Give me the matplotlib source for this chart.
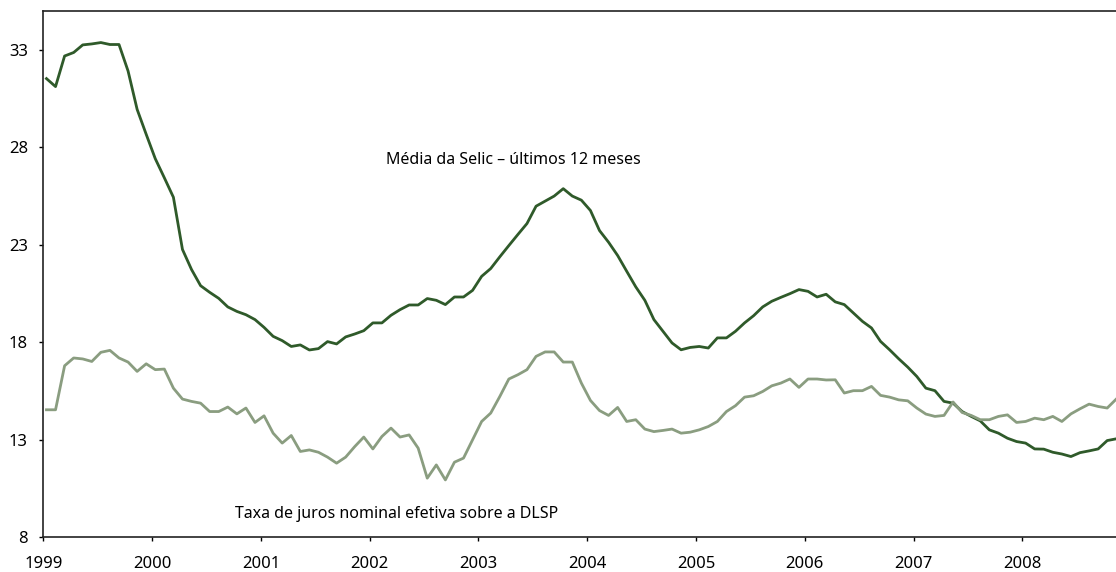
import numpy as np
import matplotlib
matplotlib.use("Agg")
from matplotlib import pyplot as plt

# monthly values, Jan 1999 onwards
selic_12m = [31.53, 31.12, 32.69, 32.87, 33.26, 33.31, 33.38, 33.28, 33.28, 31.92,
             29.95, 28.67, 27.42, 26.44, 25.44, 22.76, 21.73, 20.90, 20.56, 20.25,
             19.81, 19.58, 19.41, 19.16, 18.76, 18.30, 18.08, 17.78, 17.86, 17.60,
             17.67, 18.03, 17.91, 18.27, 18.42, 18.59, 18.99, 18.99, 19.38, 19.67,
             19.91, 19.91, 20.24, 20.15, 19.93, 20.32, 20.32, 20.66, 21.38, 21.78,
             22.38, 22.96, 23.53, 24.09, 24.98, 25.24, 25.50, 25.88, 25.50, 25.29,
             24.76, 23.73, 23.13, 22.45, 21.64, 20.84, 20.15, 19.16, 18.56, 17.96,
             17.61, 17.73, 17.78, 17.70, 18.22, 18.22, 18.56, 18.99, 19.36, 19.81,
             20.10, 20.30, 20.49, 20.70, 20.61, 20.32, 20.46, 20.07, 19.93, 19.50,
             19.07, 18.73, 18.04, 17.61, 17.15, 16.72, 16.24, 15.64, 15.51, 14.96,
             14.87, 14.44, 14.19, 13.96, 13.50, 13.33, 13.07, 12.90, 12.82, 12.52,
             12.51, 12.35, 12.26, 12.13, 12.33, 12.42, 12.52, 12.95, 13.04]

dlsp = [14.53, 14.53, 16.79, 17.19, 17.14, 17.01, 17.48, 17.58, 17.19, 16.98,
        16.50, 16.89, 16.59, 16.62, 15.64, 15.08, 14.96, 14.87, 14.44, 14.44,
        14.67, 14.32, 14.62, 13.88, 14.22, 13.33, 12.82, 13.21, 12.39, 12.47,
        12.35, 12.10, 11.79, 12.10, 12.64, 13.13, 12.52, 13.16, 13.59, 13.13,
        13.24, 12.56, 11.02, 11.70, 10.93, 11.84, 12.05, 12.99, 13.93, 14.36,
        15.21, 16.11, 16.33, 16.59, 17.27, 17.50, 17.50, 16.98, 16.98, 15.90,
        15.01, 14.49, 14.24, 14.65, 13.93, 14.02, 13.54, 13.41, 13.47, 13.54,
        13.33, 13.38, 13.50, 13.67, 13.93, 14.44, 14.74, 15.18, 15.25, 15.47,
        15.76, 15.90, 16.11, 15.68, 16.11, 16.11, 16.06, 16.07, 15.39, 15.51,
        15.51, 15.73, 15.27, 15.18, 15.04, 14.99, 14.62, 14.31, 14.19, 14.24,
        14.93, 14.39, 14.24, 14.02, 14.02, 14.19, 14.27, 13.88, 13.93, 14.10,
        14.02, 14.19, 13.93, 14.32, 14.58, 14.82, 14.70, 14.62, 15.08]

years = list(range(1999, 2009))
yticks = [8, 13, 18, 23, 28, 33]

plt.rcParams['font.family'] = ['Noto Sans', 'DejaVu Sans']

x = 1999 + (np.arange(len(selic_12m)) + 0.35) / 12.0

fig = plt.figure(figsize=(11.16, 5.72), dpi=100)
ax = fig.add_axes([43.3 / 1116, 1 - 537 / 572, 1 - 43.3 / 1116, (537 - 11) / 572])

ax.plot(x, selic_12m, color="#2f5a2a", lw=2.0, solid_joinstyle="round")
ax.plot(x, dlsp, color="#8a9d80", lw=2.0, solid_joinstyle="round")

ax.set_xlim(1999, 2008.86)
ax.set_ylim(8, 35)
ax.set_xticks(years)
ax.set_xticklabels([str(y) for y in years])
ax.set_yticks(yticks)
ax.tick_params(axis="both", direction="out", length=3, width=1, labelsize=12, colors="black")
ax.tick_params(axis="x", pad=11)
ax.tick_params(axis="y", pad=8)

ax.spines["right"].set_visible(False)
for s in ["left", "bottom", "top"]:
    ax.spines[s].set_linewidth(1.2)
    ax.spines[s].set_color("#222222")

ax.text(2003.32, 27.35, "Média da Selic – últimos 12 meses", fontsize=11.5, ha="center", va="center")
ax.text(2002.25, 9.2, "Taxa de juros nominal efetiva sobre a DLSP", fontsize=11.5, ha="center", va="center")

fig.savefig("out.png", dpi=100)
